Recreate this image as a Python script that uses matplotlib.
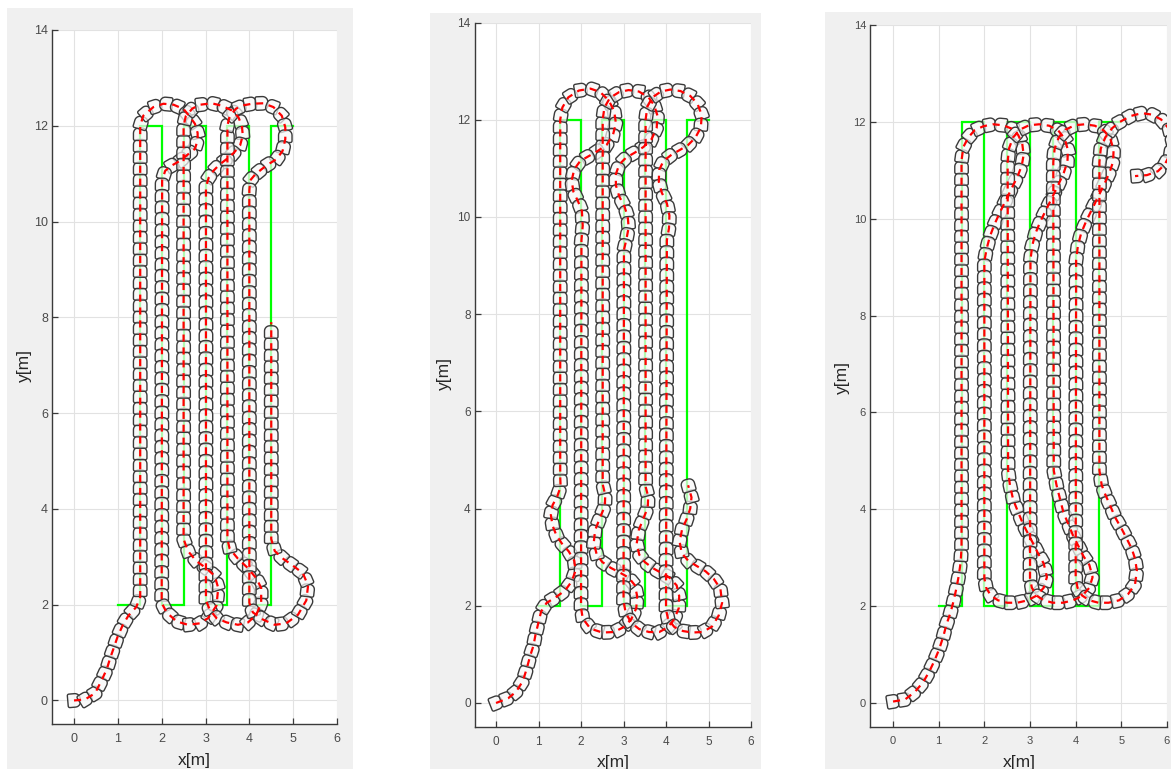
import numpy as np
import matplotlib
matplotlib.use("Agg")
import matplotlib.pyplot as plt
import matplotlib.transforms as mtransforms
from matplotlib.collections import PolyCollection
from matplotlib.patches import Rectangle

plt.rcParams['font.family'] = ['Liberation Sans', 'DejaVu Sans']

# ---------------------------------------------------------------- data
# Reference coverage path (boustrophedon) shared by the three runs
ref_x = [1, 1.5, 1.5, 2, 2, 2.5, 2.5, 3, 3, 3.5, 3.5, 4, 4, 4.5, 4.5, 5]
ref_y = [2, 2, 12, 12, 2, 2, 12, 12, 2, 2, 12, 12, 2, 2, 12, 12]

x_ticks = [0, 1, 2, 3, 4, 5, 6]
y_ticks = [0, 2, 4, 6, 8, 10, 12, 14]

# Run 1: driven path (x, y) in metres
traj1 = [
    (0.00, 0.00), (0.25, 0.02), (0.48, 0.15), (0.63, 0.42), (0.75, 0.66), (0.82, 0.87),
    (0.90, 1.08), (0.99, 1.32), (1.11, 1.57), (1.24, 1.77), (1.42, 1.95), (1.51, 2.16),
    (1.51, 2.40), (1.51, 12.00),
    (1.58, 12.21), (1.81, 12.39), (2.04, 12.46), (2.27, 12.44), (2.50, 12.35), (2.65, 12.18),
    (2.76, 12.04), (2.82, 11.85), (2.82, 11.70), (2.76, 11.52), (2.57, 11.38), (2.42, 11.27),
    (2.23, 11.17), (2.08, 11.06), (2.01, 10.86), (2.00, 2.04),
    (2.11, 1.84), (2.34, 1.65), (2.60, 1.58), (2.87, 1.61), (3.06, 1.72), (3.25, 1.98),
    (3.29, 2.35), (3.21, 2.60), (3.02, 2.76), (2.79, 2.91), (2.60, 3.12), (2.50, 3.37),
    (2.50, 12.00),
    (2.55, 12.20), (2.70, 12.36), (2.88, 12.44), (3.14, 12.47), (3.37, 12.42), (3.60, 12.32),
    (3.75, 12.18), (3.83, 12.00), (3.85, 11.80), (3.79, 11.59), (3.64, 11.43), (3.49, 11.31),
    (3.32, 11.19), (3.18, 11.06), (3.07, 10.91), (3.01, 10.72), (3.01, 2.09),
    (3.10, 1.89), (3.25, 1.72), (3.48, 1.63), (3.74, 1.58), (3.97, 1.63), (4.16, 1.79),
    (4.27, 2.04), (4.27, 2.35), (4.16, 2.55), (3.97, 2.76), (3.74, 2.96), (3.55, 3.17),
    (3.50, 3.37), (3.50, 12.00),
    (3.55, 12.20), (3.70, 12.36), (3.88, 12.43), (4.06, 12.46), (4.32, 12.47), (4.55, 12.39),
    (4.74, 12.21), (4.82, 11.97), (4.82, 11.72), (4.76, 11.48), (4.63, 11.31), (4.44, 11.20),
    (4.29, 11.10), (4.13, 10.98), (4.02, 10.86), (4.00, 10.65), (4.00, 2.04),
    (4.08, 1.84), (4.31, 1.69), (4.58, 1.58), (4.84, 1.61), (5.11, 1.79), (5.30, 2.09),
    (5.34, 2.40), (5.22, 2.66), (5.00, 2.81), (4.77, 2.96), (4.58, 3.12), (4.50, 3.37),
    (4.50, 7.90),
]

# Run 2: driven path (x, y) in metres
traj2 = [
    (0.00, 0.00), (0.29, 0.10), (0.47, 0.23), (0.63, 0.45), (0.72, 0.70), (0.80, 0.96),
    (0.88, 1.18), (0.93, 1.41), (1.00, 1.66), (1.06, 1.88), (1.19, 2.06), (1.43, 2.19),
    (1.63, 2.32), (1.78, 2.50), (1.87, 2.72), (1.84, 2.93), (1.71, 3.12), (1.55, 3.28),
    (1.42, 3.45), (1.33, 3.65), (1.29, 3.87), (1.33, 4.07), (1.44, 4.25), (1.52, 4.45),
    (1.51, 4.65), (1.51, 12.00),
    (1.56, 12.25), (1.70, 12.46), (1.95, 12.60), (2.22, 12.64), (2.45, 12.57), (2.65, 12.40),
    (2.78, 12.18), (2.82, 11.93), (2.75, 11.68), (2.60, 11.48), (2.38, 11.35), (2.18, 11.25),
    (1.98, 11.15), (1.84, 10.98), (1.78, 10.75), (1.82, 10.52), (1.93, 10.32), (2.02, 10.12),
    (2.04, 9.82), (2.01, 9.52), (2.00, 1.96),
    (2.04, 1.74), (2.22, 1.53), (2.50, 1.45), (2.78, 1.46), (3.00, 1.56), (3.18, 1.72),
    (3.30, 1.95), (3.32, 2.20), (3.27, 2.42), (3.12, 2.58), (2.92, 2.68), (2.70, 2.78),
    (2.50, 2.90), (2.37, 3.05), (2.30, 3.30), (2.33, 3.55), (2.45, 3.82), (2.56, 4.05),
    (2.57, 4.28), (2.51, 4.50), (2.51, 12.00),
    (2.55, 12.25), (2.68, 12.45), (2.90, 12.57), (3.12, 12.61), (3.36, 12.58), (3.58, 12.47),
    (3.72, 12.30), (3.80, 12.08), (3.78, 11.83), (3.66, 11.60), (3.47, 11.44), (3.26, 11.32),
    (3.06, 11.22), (2.90, 11.08), (2.82, 10.88), (2.82, 10.65), (2.90, 10.42), (3.02, 10.22),
    (3.10, 10.00), (3.12, 9.78), (3.07, 9.55), (3.01, 9.32), (3.00, 2.10),
    (3.05, 1.86), (3.18, 1.65), (3.37, 1.52), (3.60, 1.46), (3.84, 1.46), (4.03, 1.55),
    (4.19, 1.72), (4.30, 1.95), (4.31, 2.20), (4.25, 2.42), (4.08, 2.58), (3.88, 2.68),
    (3.68, 2.78), (3.50, 2.90), (3.37, 3.05), (3.31, 3.28), (3.36, 3.56), (3.47, 3.80),
    (3.57, 4.02), (3.58, 4.25), (3.52, 4.45), (3.52, 12.00),
    (3.56, 12.27), (3.68, 12.46), (3.88, 12.58), (4.10, 12.62), (4.34, 12.59), (4.57, 12.49),
    (4.74, 12.33), (4.84, 12.10), (4.82, 11.84), (4.69, 11.63), (4.52, 11.48), (4.33, 11.38),
    (4.13, 11.28), (3.94, 11.15), (3.84, 10.97), (3.83, 10.73), (3.90, 10.50), (4.02, 10.28),
    (4.08, 10.03), (4.07, 9.77), (4.02, 9.52), (4.00, 1.92),
    (4.05, 1.72), (4.20, 1.56), (4.40, 1.48), (4.62, 1.45), (4.86, 1.46), (5.08, 1.57),
    (5.24, 1.80), (5.32, 2.06), (5.28, 2.35), (5.12, 2.56), (4.93, 2.71), (4.72, 2.82),
    (4.52, 2.93), (4.37, 3.08), (4.32, 3.32), (4.38, 3.58), (4.49, 3.79), (4.57, 4.00),
    (4.60, 4.23), (4.52, 4.48),
]

# Run 3: driven path (x, y) in metres
traj3 = [
    (0.00, 0.03), (0.26, 0.07), (0.48, 0.23), (0.66, 0.43), (0.80, 0.66), (0.91, 0.88),
    (1.01, 1.11), (1.10, 1.37), (1.17, 1.62), (1.26, 1.87), (1.33, 2.12), (1.39, 2.38),
    (1.44, 2.63), (1.48, 2.90), (1.50, 3.20), (1.50, 11.20),
    (1.54, 11.48), (1.65, 11.68), (1.79, 11.83), (1.98, 11.91), (2.19, 11.95), (2.41, 11.93),
    (2.60, 11.86), (2.74, 11.73), (2.83, 11.55), (2.86, 11.32), (2.82, 11.10), (2.73, 10.88),
    (2.60, 10.63), (2.47, 10.38), (2.34, 10.13), (2.22, 9.88), (2.12, 9.63), (2.05, 9.38),
    (2.00, 9.12), (2.00, 2.58),
    (2.04, 2.38), (2.14, 2.22), (2.30, 2.12), (2.50, 2.07), (2.72, 2.07), (2.95, 2.12),
    (3.15, 2.22), (3.30, 2.38), (3.37, 2.60), (3.30, 2.88), (3.18, 3.08), (3.07, 3.29),
    (2.96, 3.49), (2.85, 3.69), (2.74, 3.94), (2.63, 4.20), (2.56, 4.50), (2.52, 4.80),
    (2.51, 11.17),
    (2.54, 11.45), (2.63, 11.68), (2.78, 11.84), (2.98, 11.93), (3.20, 11.95), (3.42, 11.92),
    (3.62, 11.82), (3.76, 11.65), (3.83, 11.42), (3.82, 11.18), (3.74, 10.95), (3.62, 10.70),
    (3.49, 10.45), (3.36, 10.20), (3.23, 9.95), (3.12, 9.70), (3.05, 9.45), (3.01, 9.15),
    (3.00, 2.58),
    (3.04, 2.38), (3.14, 2.22), (3.30, 2.12), (3.50, 2.07), (3.72, 2.07), (3.95, 2.12),
    (4.15, 2.22), (4.30, 2.38), (4.37, 2.60), (4.30, 2.85), (4.17, 3.03), (4.06, 3.24),
    (3.95, 3.44), (3.84, 3.69), (3.73, 3.94), (3.66, 4.20), (3.58, 4.50), (3.52, 4.80),
    (3.51, 11.17),
    (3.54, 11.45), (3.63, 11.68), (3.78, 11.84), (3.98, 11.93), (4.20, 11.95), (4.42, 11.92),
    (4.62, 11.82), (4.76, 11.65), (4.83, 11.42), (4.82, 11.18), (4.74, 10.95), (4.62, 10.70),
    (4.49, 10.45), (4.36, 10.20), (4.23, 9.95), (4.12, 9.70), (4.05, 9.45), (4.01, 9.15),
    (4.00, 2.58),
    (4.04, 2.38), (4.14, 2.22), (4.30, 2.12), (4.50, 2.07), (4.72, 2.07), (4.95, 2.12),
    (5.15, 2.25), (5.30, 2.45), (5.34, 2.73), (5.30, 2.98), (5.23, 3.18), (5.12, 3.39),
    (5.01, 3.59), (4.86, 3.84), (4.75, 4.09), (4.65, 4.30), (4.57, 4.50), (4.52, 4.80),
    (4.52, 11.17),
    (4.55, 11.45), (4.65, 11.68), (4.80, 11.87), (4.97, 12.00), (5.20, 12.12), (5.45, 12.18),
    (5.67, 12.15), (5.87, 12.05), (6.05, 11.85), (6.12, 11.60), (6.08, 11.35), (5.95, 11.12),
    (5.80, 10.98), (5.56, 10.90), (5.30, 10.88),
]

# ---------------------------------------------------------------- layout
W, H = 1171, 769
fig = plt.figure(figsize=(W / 100, H / 100), dpi=100, facecolor='white')

panels = [
    # grey backdrop (l, t, r, b) px, axes box (l, t, r, b) px, label spots, font sizes
    dict(traj=traj1, bg=(7, 8, 353, 769), box=(52.1, 30.0, 337.0, 724.4),
         ylab=(24, 366), xlab=(194, 760), fs=9.0, lfs=12.5),
    dict(traj=traj2, bg=(430, 13, 761, 769), box=(474.8, 22.5, 751.0, 727.3),
         ylab=(444, 373), xlab=(613, 762), fs=8.5, lfs=12.5),
    dict(traj=traj3, bg=(825, 12, 1171, 769), box=(870.2, 25.0, 1167.0, 727.2),
         ylab=(842, 378), xlab=(1019, 763), fs=8.0, lfs=12.5),
]


def robot_outline(w=13.5, h=12.5, r_front=5.2, r_back=1.6, n=7):
    """Robot footprint in pixels, nose pointing to +y."""
    hw, hh = w / 2, h / 2
    pts = []

    def arc(cx, cy, r, a0, a1):
        for t in np.linspace(a0, a1, n):
            pts.append((cx + r * np.cos(t), cy + r * np.sin(t)))

    arc(hw - r_back, -hh + r_back, r_back, -np.pi / 2, 0)
    arc(hw - r_front, hh - r_front, r_front, 0, np.pi / 2)
    arc(-hw + r_front, hh - r_front, r_front, np.pi / 2, np.pi)
    arc(-hw + r_back, -hh + r_back, r_back, np.pi, 1.5 * np.pi)
    return np.array(pts)


OUTLINE = robot_outline()


def poses_along(ax, pts, step_px):
    """Robot poses sampled every step_px pixels of travel along the path."""
    disp = ax.transData.transform(pts)
    seg = np.diff(disp, axis=0)
    seglen = np.hypot(seg[:, 0], seg[:, 1])
    keep = seglen > 1e-9
    starts = disp[:-1][keep]
    seg, seglen = seg[keep], seglen[keep]
    cum = np.concatenate([[0.0], np.cumsum(seglen)])
    s = np.arange(0.0, cum[-1] + 1e-6, step_px)
    idx = np.clip(np.searchsorted(cum, s, side='right') - 1, 0, len(seg) - 1)
    t = (s - cum[idx]) / seglen[idx]
    pos = starts[idx] + seg[idx] * t[:, None]
    heading = np.degrees(np.arctan2(seg[idx, 1], seg[idx, 0]))
    return pos, heading


for p in panels:
    l, t, r, b = p['bg']
    fig.patches.append(Rectangle((l / W, 1 - b / H), (r - l) / W, (b - t) / H,
                                 transform=fig.transFigure, facecolor='#f0f0f0',
                                 edgecolor='none', zorder=-10))
    l, t, r, b = p['box']
    ax = fig.add_axes([l / W, 1 - b / H, (r - l) / W, (b - t) / H], zorder=1)
    ax.set_facecolor('white')
    ax.set_xlim(-0.5, 6)
    ax.set_ylim(-0.5, 14)
    ax.set_xticks(x_ticks)
    ax.set_yticks(y_ticks)
    ax.grid(True, color='#e2e2e2', lw=0.8)
    ax.set_axisbelow(True)
    for side in ('top', 'right'):
        ax.spines[side].set_visible(False)
    for side in ('left', 'bottom'):
        ax.spines[side].set_color('#3a3a3a')
        ax.spines[side].set_linewidth(1.0)
    ax.tick_params(direction='in', length=4, width=0.9, color='#3a3a3a',
                   labelcolor='#4a4a4a', labelsize=p['fs'])
    ax.tick_params(axis='x', pad=6.0)
    ax.tick_params(axis='y', pad=3)

    # reference path
    ax.plot(ref_x, ref_y, color='#00ff00', lw=1.6, zorder=2, solid_joinstyle='miter')

    # robot footprints along the driven path
    pts = np.array(p['traj'], dtype=float)
    pos, heading = poses_along(ax, pts, 11.4)
    rot = (heading - 90.0 + 90.0) % 180.0 - 90.0
    verts = []
    for a in np.radians(rot):
        c, s_ = np.cos(a), np.sin(a)
        R = np.array([[c, -s_], [s_, c]])
        verts.append(OUTLINE @ R.T)
    offsets = ax.transData.inverted().transform(pos)
    coll = PolyCollection(verts, offsets=offsets, offset_transform=ax.transData,
                          transform=mtransforms.IdentityTransform(),
                          facecolors=(0.97, 0.97, 0.97, 0.72), edgecolors='#3a3a3a',
                          linewidths=1.0, zorder=3)
    ax.add_collection(coll)

    # driven path centre line
    ax.plot(pts[:, 0], pts[:, 1], color='red', lw=1.6, ls=(0, (3.2, 2.6)), zorder=4)

    fig.text(p['ylab'][0] / W, 1 - p['ylab'][1] / H, 'y[m]', rotation=90,
             ha='center', va='center', fontsize=p['lfs'], color='#262626')
    fig.text(p['xlab'][0] / W, 1 - p['xlab'][1] / H, 'x[m]',
             ha='center', va='center', fontsize=p['lfs'], color='#262626')

fig.savefig('out.png', dpi=100, facecolor='white')
